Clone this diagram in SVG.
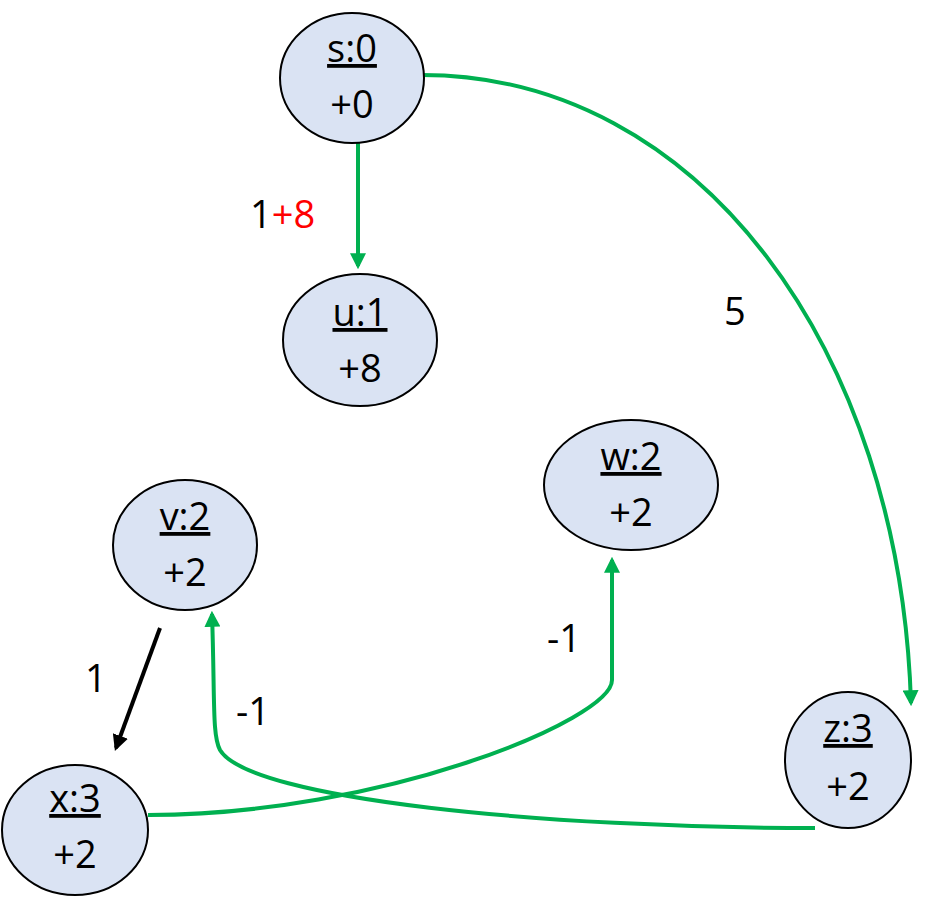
<svg xmlns="http://www.w3.org/2000/svg" width="931" height="904" viewBox="0 0 931 904">
<style>
.n{fill:#dae3f3;stroke:#000;stroke-width:2}
.t{font-family:"Open Sans","Liberation Sans",sans-serif;font-size:38px;text-anchor:middle;fill:#000}
.l{font-family:"Open Sans","Liberation Sans",sans-serif;font-size:38px;fill:#000}
.g{fill:none;stroke:#00b050;stroke-width:4}
.b{fill:none;stroke:#000;stroke-width:4}
</style>
<defs>
<marker id="ag" viewBox="0 0 10 10" refX="8" refY="5" markerWidth="4" markerHeight="4" orient="auto"><path d="M0,0L10,5L0,10z" fill="#00b050"/></marker>
<marker id="ab" viewBox="0 0 10 10" refX="8" refY="5" markerWidth="4" markerHeight="4" orient="auto"><path d="M0,0L10,5L0,10z" fill="#000"/></marker>
</defs>
<g id="connectors">
<path class="g" d="M358,140 L358,266" marker-end="url(#ag)"/>
<path class="g" d="M422,75 C700,75 900,350 911,703" marker-end="url(#ag)"/>
<path class="g" d="M148,815 C380,815 612,720 612,680 L612,560" marker-end="url(#ag)"/>
<path class="g" d="M815,828 C550,828 250,800 220,750 C212,735 215,700 212,614" marker-end="url(#ag)"/>
<path class="b" d="M160,628 L116,748" marker-end="url(#ab)"/>
<text class="l" x="250" y="228">1<tspan fill="#ff0000">+8</tspan></text>
<text class="l" x="724" y="325">5</text>
<text class="l" x="547" y="652">-1</text>
<text class="l" x="236" y="725">-1</text>
<text class="l" x="85" y="692">1</text>
</g>
<g id="s"><ellipse class="n" cx="352" cy="78" rx="72" ry="65"/><text class="t" x="352" y="62" text-decoration="underline">s:0</text><text class="t" x="352" y="118">+0</text></g>
<g id="u"><ellipse class="n" cx="360" cy="340" rx="77" ry="66"/><text class="t" x="360" y="326" text-decoration="underline">u:1</text><text class="t" x="360" y="382">+8</text></g>
<g id="v"><ellipse class="n" cx="185" cy="545" rx="72" ry="65"/><text class="t" x="185" y="530" text-decoration="underline">v:2</text><text class="t" x="185" y="586">+2</text></g>
<g id="w"><ellipse class="n" cx="631" cy="485" rx="87" ry="65"/><text class="t" x="631" y="470" text-decoration="underline">w:2</text><text class="t" x="631" y="526">+2</text></g>
<g id="x"><ellipse class="n" cx="75" cy="830" rx="73" ry="65"/><text class="t" x="75" y="812" text-decoration="underline">x:3</text><text class="t" x="75" y="868">+2</text></g>
<g id="z"><ellipse class="n" cx="848" cy="760" rx="63" ry="68"/><text class="t" x="848" y="742" text-decoration="underline">z:3</text><text class="t" x="848" y="800">+2</text></g>
</svg>
